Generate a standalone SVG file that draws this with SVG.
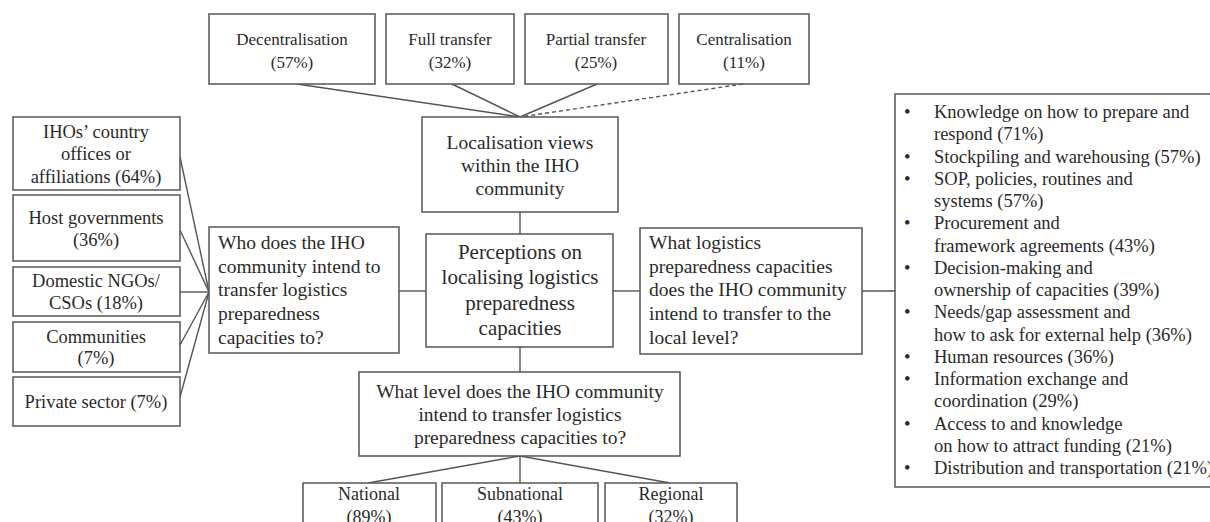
<svg xmlns="http://www.w3.org/2000/svg" width="1210" height="522" viewBox="0 0 1210 522">
<style>
.box{fill:#fff;stroke:#555;stroke-width:1.5}
.ln{stroke:#555;stroke-width:1.4;fill:none}
.dash{stroke-dasharray:4 3}
text{font-family:"Liberation Serif","Times New Roman",serif;fill:#2a2a2a}
.c{text-anchor:middle}
.f17{font-size:17px}
.f18{font-size:18px}
.f185{font-size:18.5px}
.f195{font-size:19.5px}
.f21{font-size:21px}
</style>
<rect width="1210" height="522" fill="#fff"/>
<g id="connectors">
<line class="ln" x1="297" y1="84" x2="520" y2="117"/>
<line class="ln" x1="452" y1="84" x2="520" y2="117"/>
<line class="ln" x1="597" y1="84" x2="520" y2="117"/>
<line class="ln dash" x1="743" y1="84" x2="520" y2="117"/>
<line class="ln" x1="520" y1="212" x2="520" y2="234"/>
<line class="ln" x1="180" y1="157" x2="209" y2="292"/>
<line class="ln" x1="180" y1="230" x2="209" y2="292"/>
<line class="ln" x1="180" y1="292" x2="209" y2="292"/>
<line class="ln" x1="180" y1="345" x2="209" y2="292"/>
<line class="ln" x1="180" y1="397" x2="209" y2="292"/>
<line class="ln" x1="399" y1="291" x2="426" y2="291"/>
<line class="ln" x1="613" y1="291" x2="640" y2="291"/>
<line class="ln" x1="862" y1="291" x2="895" y2="291"/>
<line class="ln" x1="520" y1="347" x2="520" y2="372"/>
<line class="ln" x1="520" y1="456" x2="368" y2="483"/>
<line class="ln" x1="520" y1="456" x2="520" y2="483"/>
<line class="ln" x1="520" y1="456" x2="670" y2="483"/>
</g>
<g id="decentralisation"><rect class="box" x="209" y="14" width="166" height="70"/>
<text class="c f17" x="292" y="45">Decentralisation</text><text class="c f17" x="292" y="68">(57%)</text></g>
<g id="full-transfer"><rect class="box" x="386" y="14" width="128" height="70"/>
<text class="c f17" x="450" y="45">Full transfer</text><text class="c f17" x="450" y="68">(32%)</text></g>
<g id="partial-transfer"><rect class="box" x="525" y="14" width="143" height="70"/>
<text class="c f17" x="596" y="45">Partial transfer</text><text class="c f17" x="596" y="68">(25%)</text></g>
<g id="centralisation"><rect class="box" x="679" y="14" width="130" height="70"/>
<text class="c f17" x="744" y="45">Centralisation</text><text class="c f17" x="744" y="68">(11%)</text></g>
<g id="localisation-views"><rect class="box" x="422" y="117" width="196" height="95"/>
<text class="c f195" x="520" y="149">Localisation views</text>
<text class="c f195" x="520" y="172">within the IHO</text>
<text class="c f195" x="520" y="195">community</text></g>
<g id="perceptions"><rect class="box" x="426" y="234" width="187" height="113"/>
<text class="c f21" x="520" y="259">Perceptions on</text>
<text class="c f21" x="520" y="284">localising logistics</text>
<text class="c f21" x="520" y="310">preparedness</text>
<text class="c f21" x="520" y="335">capacities</text></g>
<g id="who"><rect class="box" x="209" y="227" width="190" height="126"/>
<text class="f195" x="218" y="249">Who does the IHO</text>
<text class="f195" x="218" y="273">community  intend to</text>
<text class="f195" x="218" y="296">transfer logistics</text>
<text class="f195" x="218" y="320">preparedness</text>
<text class="f195" x="218" y="344">capacities to?</text></g>
<g id="what-capacities"><rect class="box" x="640" y="228" width="222" height="126"/>
<text class="f195" x="649" y="249">What logistics</text>
<text class="f195" x="649" y="273">preparedness capacities</text>
<text class="f195" x="649" y="296">does the IHO community</text>
<text class="f195" x="649" y="320">intend to transfer to the</text>
<text class="f195" x="649" y="344">local level?</text></g>
<g id="ihos"><rect class="box" x="13" y="117" width="167" height="73"/>
<text class="c f185" x="96" y="138">IHOs’ country</text>
<text class="c f185" x="96" y="160">offices or</text>
<text class="c f185" x="96" y="183">affiliations  (64%)</text></g>
<g id="host"><rect class="box" x="13" y="195" width="167" height="66"/>
<text class="c f185" x="96" y="224">Host governments</text>
<text class="c f185" x="96" y="246">(36%)</text></g>
<g id="domestic"><rect class="box" x="13" y="267" width="167" height="49"/>
<text class="c f185" x="96" y="287">Domestic NGOs/</text>
<text class="c f185" x="96" y="309">CSOs (18%)</text></g>
<g id="communities"><rect class="box" x="13" y="322" width="167" height="50"/>
<text class="c f185" x="96" y="343">Communities</text>
<text class="c f185" x="96" y="364">(7%)</text></g>
<g id="private"><rect class="box" x="13" y="377" width="167" height="49"/>
<text class="c f185" x="96" y="408">Private sector (7%)</text></g>
<g id="what-level"><rect class="box" x="359" y="372" width="321" height="84"/>
<text class="c f195" x="520" y="398">What level does the IHO community</text>
<text class="c f195" x="520" y="421">intend to transfer logistics</text>
<text class="c f195" x="520" y="444">preparedness capacities to?</text></g>
<g id="national"><rect class="box" x="303" y="483" width="133" height="60"/>
<text class="c f18" x="369" y="500">National</text><text class="c f18" x="369" y="523">(89%)</text></g>
<g id="subnational"><rect class="box" x="442" y="483" width="156" height="60"/>
<text class="c f18" x="520" y="500">Subnational</text><text class="c f18" x="520" y="523">(43%)</text></g>
<g id="regional"><rect class="box" x="605" y="483" width="132" height="60"/>
<text class="c f18" x="671" y="500">Regional</text><text class="c f18" x="671" y="523">(32%)</text></g>
<g id="capacity-list"><rect class="box" x="895" y="94" width="320" height="393"/>
<g class="f185">
<text x="904" y="118">•</text><text x="934" y="118">Knowledge  on how to prepare and</text>
<text x="934" y="140.25">respond (71%)</text>
<text x="904" y="162.5">•</text><text x="934" y="162.5">Stockpiling  and warehousing  (57%)</text>
<text x="904" y="184.75">•</text><text x="934" y="184.75">SOP, policies, routines and</text>
<text x="934" y="207">systems (57%)</text>
<text x="904" y="229.25">•</text><text x="934" y="229.25">Procurement and</text>
<text x="934" y="251.5">framework agreements  (43%)</text>
<text x="904" y="273.75">•</text><text x="934" y="273.75">Decision-making  and</text>
<text x="934" y="296">ownership of capacities (39%)</text>
<text x="904" y="318.25">•</text><text x="934" y="318.25">Needs/gap assessment and</text>
<text x="934" y="340.5">how to ask for external  help (36%)</text>
<text x="904" y="362.75">•</text><text x="934" y="362.75">Human  resources (36%)</text>
<text x="904" y="385">•</text><text x="934" y="385">Information  exchange and</text>
<text x="934" y="407.25">coordination (29%)</text>
<text x="904" y="429.5">•</text><text x="934" y="429.5">Access to and knowledge</text>
<text x="934" y="451.75">on how to attract  funding (21%)</text>
<text x="904" y="474">•</text><text x="934" y="474">Distribution  and transportation (21%)</text>
</g></g>
</svg>
